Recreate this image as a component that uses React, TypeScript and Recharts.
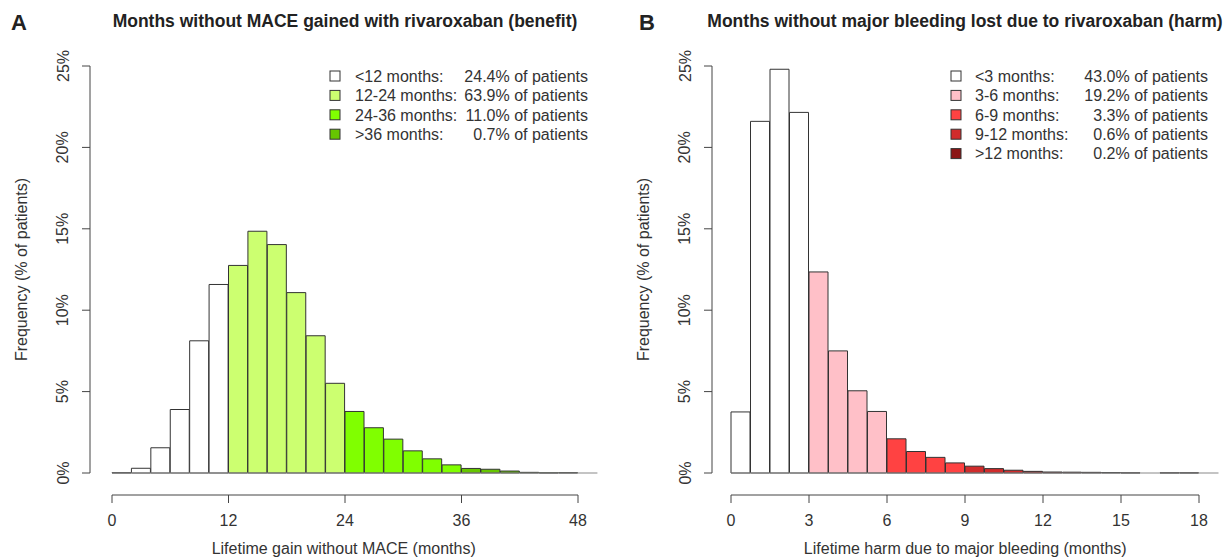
import React from 'react';
import { BarChart, Bar, XAxis, YAxis, Cell, ReferenceLine, Label } from 'recharts';

const FONT = '"Liberation Sans", Arial, Helvetica, sans-serif';

// ---------- Panel A : benefit (months without MACE gained) ----------
const benefitBinWidth = 2;
const benefitBinStarts = [0, 2, 4, 6, 8, 10, 12, 14, 16, 18, 20, 22, 24, 26, 28, 30, 32, 34, 36, 38, 40, 42, 44, 46, 48];
const benefitFreq = [0.02, 0.29, 1.55, 3.9, 8.12, 11.58, 12.75, 14.85, 14.03, 11.08, 8.43, 5.51, 3.78, 2.78, 2.08, 1.36, 0.87, 0.5, 0.28, 0.23, 0.12, 0.04, 0.01, 0.02, 0];
const benefitBreaks = [12, 24, 36];
const benefitColors = ['#FFFFFF', '#CCFF70', '#80FF00', '#66C600'];
const benefitTicks = [0, 12, 24, 36, 48];
const benefitLegendLabels = ['<12 months:', '12-24 months:', '24-36 months:', '>36 months:'];
const benefitLegendPct = ['24.4% of patients', '63.9% of patients', '11.0% of patients', '0.7% of patients'];
const benefitTitle = 'Months without MACE gained with rivaroxaban (benefit)';
const benefitXLabel = 'Lifetime gain without MACE (months)';

// ---------- Panel B : harm (months without major bleeding lost) ----------
const harmBinWidth = 0.75;
const harmBinStarts = [0, 0.75, 1.5, 2.25, 3, 3.75, 4.5, 5.25, 6, 6.75, 7.5, 8.25, 9, 9.75, 10.5, 11.25, 12, 12.75, 13.5, 14.25, 15, 15.75, 16.5, 17.25, 18];
const harmFreq = [3.75, 21.6, 24.8, 22.15, 12.35, 7.5, 5.05, 3.78, 2.1, 1.32, 0.96, 0.62, 0.42, 0.27, 0.17, 0.1, 0.06, 0.05, 0.04, 0.03, 0.01, 0, 0.01, 0.01, 0];
const harmBreaks = [3, 6, 9, 12];
const harmColors = ['#FFFFFF', '#FFC0C8', '#FF4242', '#D02C2C', '#8B1414'];
const harmTicks = [0, 3, 6, 9, 12, 15, 18];
const harmLegendLabels = ['<3 months:', '3-6 months:', '6-9 months:', '9-12 months:', '>12 months:'];
const harmLegendPct = ['43.0% of patients', '19.2% of patients', '3.3% of patients', '0.6% of patients', '0.2% of patients'];
const harmTitle = 'Months without major bleeding lost due to rivaroxaban (harm)';
const harmXLabel = 'Lifetime harm due to major bleeding (months)';

const yTicks = [0, 5, 10, 15, 20, 25];
const yLabel = 'Frequency (% of patients)';

// ---------- layout constants ----------
const H = 557;
const PLOT_TOP = 66;      // 25% line
const ZERO_Y = 473;       // 0% line
const X_AXIS_Y = 495;     // detached x axis line
const Y_MAX = 25;
const PX_PER_PCT = (ZERO_Y - PLOT_TOP) / Y_MAX;
const Y_AXIS_POS = -(X_AXIS_Y - ZERO_Y) / PX_PER_PCT; // value at which the x axis line sits

type PanelProps = {
  left: number;
  width: number;
  yAxisX: number;     // absolute px of y axis line
  zeroX: number;      // absolute px of x = 0
  pxPerUnit: number;
  binWidth: number;
  starts: number[];
  freq: number[];
  breaks: number[];
  colors: string[];
  ticks: number[];
  xLabel: string;
};

function groupOf(start: number, breaks: number[]) {
  let g = 0;
  for (const b of breaks) if (start >= b) g++;
  return g;
}

const XTick = (props: any) => {
  const { x, y, payload } = props;
  return (
    <text x={x} y={y + 21} textAnchor="middle" fontSize={16} fontFamily={FONT} fill="#333">
      {payload.value}
    </text>
  );
};

const YTick = (props: any) => {
  const { x, y, payload } = props;
  const cx = x - 17;
  return (
    <text
      x={cx}
      y={y}
      transform={`rotate(-90, ${cx}, ${y})`}
      textAnchor="middle"
      dominantBaseline="central"
      fontSize={16}
      fontFamily={FONT}
      fill="#333"
    >
      {payload.value + '%'}
    </text>
  );
};

function Panel(p: PanelProps) {
  const data = p.starts.map((s, i) => ({ mid: s + p.binWidth / 2, freq: p.freq[i], group: groupOf(s, p.breaks) }));
  const yAxisWidth = p.yAxisX - p.left;
  const xMax = p.starts[p.starts.length - 1] + p.binWidth;
  const xMin = -(p.zeroX - p.yAxisX) / p.pxPerUnit;
  const plotRight = p.zeroX + xMax * p.pxPerUnit;
  const marginRight = p.left + p.width - plotRight;
  const lastTick = p.ticks[p.ticks.length - 1];
  const labelCenterY = PLOT_TOP + (ZERO_Y - PLOT_TOP) / 2;
  return (
    <div style={{ position: 'absolute', left: p.left, top: 0 }}>
      <BarChart
        width={p.width}
        height={H}
        data={data}
        margin={{ top: PLOT_TOP, right: marginRight, bottom: 0, left: 0 }}
        barCategoryGap={0}
        barGap={0}
      >
        <XAxis
          dataKey="mid"
          type="number"
          domain={[xMin, xMax]}
          ticks={p.ticks}
          allowDataOverflow
          axisLine={false}
          tickLine={{ stroke: '#444', strokeWidth: 1 }}
          tickSize={8}
          tick={<XTick />}
          height={H - X_AXIS_Y}
          interval={0}
        >
          <Label
            content={() => (
              <text
                x={(p.yAxisX + plotRight) / 2 - p.left}
                y={X_AXIS_Y + 59}
                textAnchor="middle"
                fontSize={16}
                fontFamily={FONT}
                fill="#333"
              >
                {p.xLabel}
              </text>
            )}
          />
        </XAxis>
        <YAxis
          type="number"
          domain={[Y_AXIS_POS, Y_MAX]}
          ticks={yTicks}
          allowDataOverflow
          axisLine={false}
          tickLine={{ stroke: '#444', strokeWidth: 1 }}
          tickSize={8}
          tick={<YTick />}
          width={yAxisWidth}
          interval={0}
        >
          <Label
            content={() => (
              <text
                x={yAxisWidth - 69}
                y={labelCenterY}
                transform={`rotate(-90, ${yAxisWidth - 69}, ${labelCenterY})`}
                textAnchor="middle"
                dominantBaseline="central"
                fontSize={16}
                fontFamily={FONT}
                fill="#333"
              >
                {yLabel}
              </text>
            )}
          />
        </YAxis>
        {/* baseline at 0% */}
        <ReferenceLine segment={[{ x: 0, y: 0 }, { x: xMax, y: 0 }]} stroke="#8a8a8a" strokeWidth={1.2} />
        <Bar dataKey="freq" isAnimationActive={false} stroke="#333" strokeWidth={1}>
          {data.map((d, i) => (
            <Cell key={i} fill={p.colors[d.group]} />
          ))}
        </Bar>
        {/* detached R-style axis lines */}
        <ReferenceLine segment={[{ x: xMin, y: 0 }, { x: xMin, y: Y_MAX }]} stroke="#444" strokeWidth={1} />
        <ReferenceLine segment={[{ x: 0, y: Y_AXIS_POS }, { x: lastTick, y: Y_AXIS_POS }]} stroke="#444" strokeWidth={1} />
      </BarChart>
    </div>
  );
}

function LegendBox(props: { x0: number; textX: number; pctRight: number; y0: number; labels: string[]; pcts: string[]; colors: string[] }) {
  const rowH = 19.4;
  return (
    <g>
      {props.labels.map((l, i) => {
        const cy = props.y0 + i * rowH;
        return (
          <g key={i}>
            <rect x={props.x0} y={cy - 5} width={10} height={10} fill={props.colors[i]} stroke="#333" strokeWidth={1} />
            <text x={props.textX} y={cy + 5.7} fontSize={16} fontFamily={FONT} fill="#333">{l}</text>
            <text x={props.pctRight} y={cy + 5.7} fontSize={16} fontFamily={FONT} fill="#333" textAnchor="end">{props.pcts[i]}</text>
          </g>
        );
      })}
    </g>
  );
}

export default function App() {
  return (
    <div style={{ position: 'fixed', left: 0, top: 0, width: 1226, height: H, background: '#fff', overflow: 'hidden' }}>
      <Panel
        left={0}
        width={613}
        yAxisX={90}
        zeroX={112}
        pxPerUnit={(578 - 112) / 48}
        binWidth={benefitBinWidth}
        starts={benefitBinStarts}
        freq={benefitFreq}
        breaks={benefitBreaks}
        colors={benefitColors}
        ticks={benefitTicks}
        xLabel={benefitXLabel}
      />
      <Panel
        left={620}
        width={606}
        yAxisX={712}
        zeroX={731}
        pxPerUnit={(1199 - 731) / 18}
        binWidth={harmBinWidth}
        starts={harmBinStarts}
        freq={harmFreq}
        breaks={harmBreaks}
        colors={harmColors}
        ticks={harmTicks}
        xLabel={harmXLabel}
      />
      <svg width={1226} height={H} style={{ position: 'absolute', left: 0, top: 0, pointerEvents: 'none' }}>
        <text x={11} y={30} fontSize={22} fontWeight="bold" fontFamily={FONT} fill="#222">A</text>
        <text x={345} y={27} fontSize={17.5} fontWeight="bold" fontFamily={FONT} fill="#222" textAnchor="middle">{benefitTitle}</text>
        <text x={639} y={30} fontSize={22} fontWeight="bold" fontFamily={FONT} fill="#222">B</text>
        <text x={965} y={27} fontSize={17.5} fontWeight="bold" fontFamily={FONT} fill="#222" textAnchor="middle">{harmTitle}</text>
        <LegendBox x0={330} textX={355} pctRight={588} y0={76} labels={benefitLegendLabels} pcts={benefitLegendPct} colors={benefitColors} />
        <LegendBox x0={951} textX={975} pctRight={1208} y0={76} labels={harmLegendLabels} pcts={harmLegendPct} colors={harmColors} />
      </svg>
    </div>
  );
}
